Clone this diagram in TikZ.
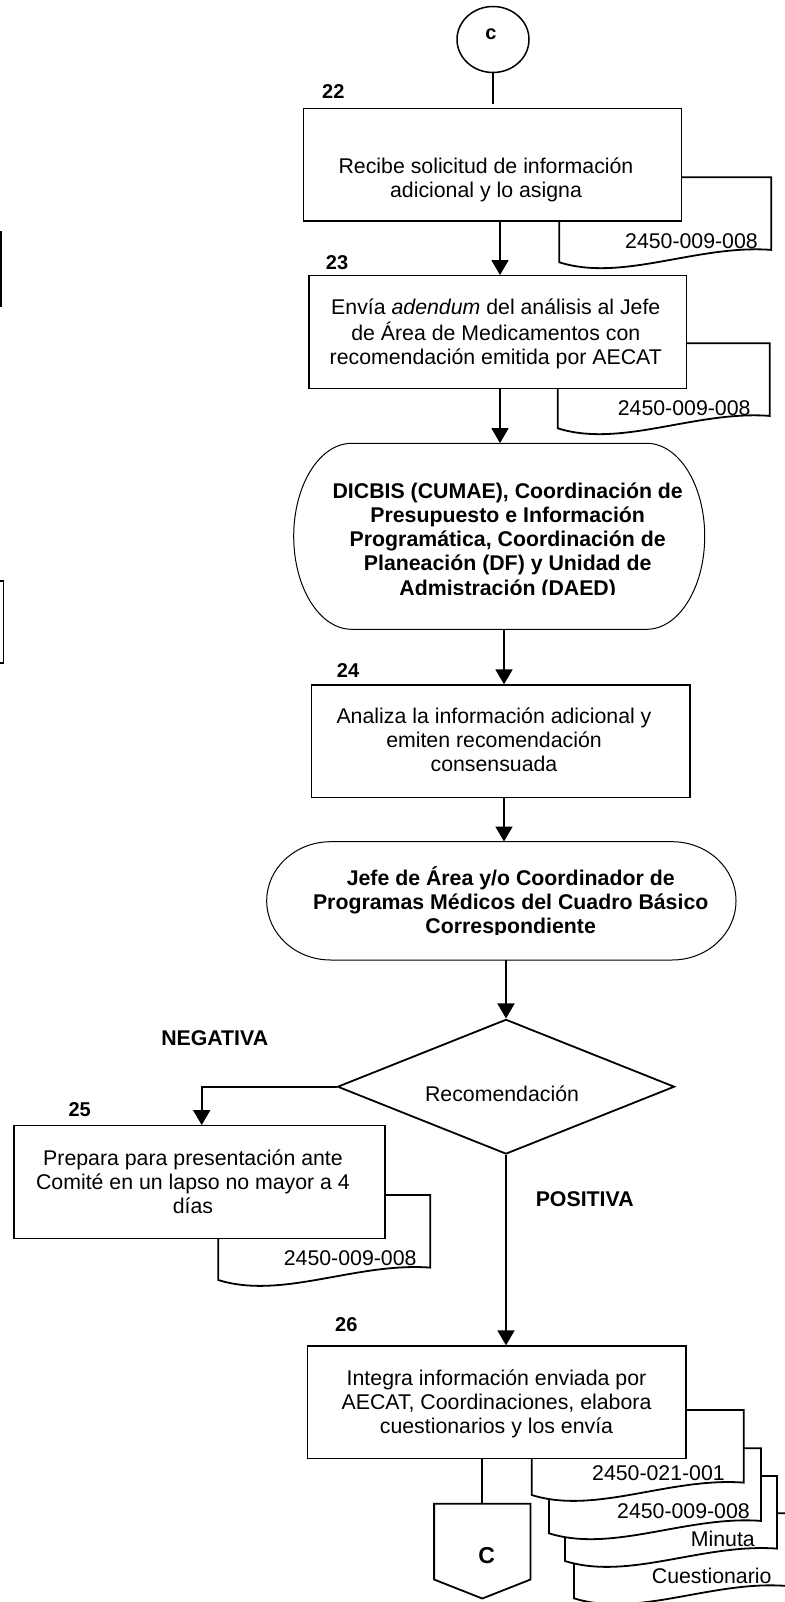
\documentclass[tikz,border=0pt]{standalone}
\usepackage{fontspec}
\setmainfont{Liberation Sans}
\usetikzlibrary{arrows.meta,shapes.geometric,calc}
\newcommand\ml[1]{\begin{tabular}[t]{@{}c@{}}#1\end{tabular}}
% document shape: #1 = left x, #2 = top y (screen px)
\newcommand\docshp[2]{%
  \pgfmathsetmacro\dxr{#1+212}\pgfmathsetmacro\dyb{#2+85}%
  \pgfmathsetmacro\dyr{#2+72.6}\pgfmathsetmacro\dca{#1+63.6}%
  \pgfmathsetmacro\dcb{#1+137.8}\pgfmathsetmacro\dya{#2+105}%
  \pgfmathsetmacro\dyc{#2+67}%
  \filldraw[docline] (#1,#2) -- (\dxr,#2) -- (\dxr,\dyr)
    .. controls (\dcb,\dyc) and (\dca,\dya) .. (#1,\dyb) -- cycle;}
% terminal outline: xl xr yt yb rx
\newcommand\termpath[5]{%
  \pgfmathsetmacro\trmA{#1+#5}\pgfmathsetmacro\trmB{#2-#5}%
  \pgfmathsetmacro\trmM{(#3+#4)/2}\pgfmathsetmacro\trmR{(#4-#3)/2}%
  \pgfmathsetmacro\trmKx{0.5523*#5}\pgfmathsetmacro\trmKy{0.5523*\trmR}%
  \filldraw[termline] (\trmA,#3) -- (\trmB,#3)
    .. controls ({\trmB+\trmKx},#3) and (#2,{\trmM-\trmKy}) .. (#2,\trmM)
    .. controls (#2,{\trmM+\trmKy}) and ({\trmB+\trmKx},#4) .. (\trmB,#4)
    -- (\trmA,#4)
    .. controls ({\trmA-\trmKx},#4) and (#1,{\trmM+\trmKy}) .. (#1,\trmM)
    .. controls (#1,{\trmM-\trmKy}) and ({\trmA-\trmKx},#3) .. cycle;}
\begin{document}
\begin{tikzpicture}[x=1pt,y=-1pt,
  box/.style={draw=black, line width=1.3pt, fill=white, rectangle, inner sep=0pt},
  txt/.style={inner sep=0pt, anchor=base, font=\fontsize{21.3}{24.2}\selectfont},
  btxt/.style={inner sep=0pt, anchor=base, font=\fontsize{21.3}{24.2}\selectfont\bfseries},
  num/.style={inner sep=0pt, anchor=base west, font=\fontsize{20}{24}\selectfont\bfseries},
  dtxt/.style={inner sep=0pt, anchor=base east, font=\fontsize{21.3}{24}\selectfont},
  arr/.style={line width=1.8pt, -{Triangle[length=15pt,width=17pt]}},
  conn/.style={line width=1.8pt},
  docline/.style={draw=black, fill=white, line width=1.8pt},
  termline/.style={draw=black, fill=white, line width=1pt},
  ghost/.style={inner sep=0pt, rectangle}]
\fill[white] (0,0) rectangle (784,1602);
\useasboundingbox (0,0) rectangle (784,1602);

% partial boxes at the left margin
\draw[line width=1.3pt] (-20,232) rectangle (1,306);
\draw[line width=1.3pt] (-20,581) rectangle (3.3,663);

% start connector
\node[draw, ellipse, line width=1.5pt, minimum width=72pt, minimum height=66pt, inner sep=0pt] (cir) at (493,39.5) {};
\node[inner sep=0pt, anchor=base, font=\fontsize{20}{24}\selectfont\bfseries] (cirt) at (491,39.3) {c};
\coordinate (c0) at (493,104);
\draw[conn] (cir.south) -- (c0);

% step 22
\docshp{559.3}{177.3}
\node[dtxt] (d22t) at (758,248.3) {2450-009-008};
\node[box, minimum width=378.4pt, minimum height=112.7pt] (b22) at (492.5,164.7) {};
\node[txt] (t22) at (486,173.3) {\ml{Recibe solicitud de información\\adicional y lo asigna}};
\node[num] (n22) at (322,99) {22};

% step 23
\docshp{557.7}{343.3}
\node[dtxt] (d23t) at (750.7,415) {2450-009-008};
\node[box, minimum width=377.7pt, minimum height=112.6pt] (b23) at (497.85,332) {};
\node[txt] (t23) at (495.8,315) {\ml{Envía \textit{adendum} del análisis al Jefe\\de Área de Medicamentos con\\recomendación emitida por AECAT}};
\node[num] (n23) at (325.7,269.3) {23};
\draw[arr] (b22.south -| 500,0) -- (b23.north -| 500,0);

% terminal 1
\termpath{293.7}{704.7}{443.3}{629.3}{58}
\node[ghost, minimum width=411pt, minimum height=186pt] (term1) at (499.2,536.3) {};
\begin{scope}
\clip (280,440) rectangle (720,594.5);
\node[btxt] (tt1) at (507.7,498.3) {\ml{DICBIS (CUMAE), Coordinación de\\Presupuesto e Información\\Programática, Coordinación de\\Planeación (DF) y Unidad de\\Admistración (DAED)}};
\end{scope}
\draw[arr] (b23.south -| 500,0) -- (term1.north -| 500,0);

% step 24
\node[box, minimum width=378.3pt, minimum height=112.7pt] (b24) at (500.85,741.35) {};
\node[txt] (t24) at (494,723.3) {\ml{Analiza la información adicional y\\emiten recomendación\\consensuada}};
\node[num] (n24) at (336.7,677.3) {24};
\draw[arr] (term1.south -| 504,0) -- (b24.north -| 504,0);

% terminal 2
\termpath{266.7}{736}{841.7}{960}{64}
\node[ghost, minimum width=469.3pt, minimum height=118.3pt] (term2) at (501.35,900.85) {};
\begin{scope}
\clip (250,835) rectangle (750,934.5);
\node[btxt] (tt2) at (510.7,885) {\ml{Jefe de Área y/o Coordinador de\\Programas Médicos del Cuadro Básico\\Correspondiente}};
\end{scope}
\draw[arr] (b24.south -| 504,0) -- (term2.north -| 504,0);

% decision
\node[draw, diamond, line width=1.8pt, fill=white, minimum width=337pt, minimum height=134.7pt, inner sep=0pt] (dia) at (506,1086.7) {};
\node[txt] (tdia) at (502,1101.7) {Recomendación};
\draw[arr] (term2.south -| dia.north) -- (dia.north);
\node[btxt] (neg) at (214.7,1045) {NEGATIVA};
\node[btxt] (pos) at (584.7,1206.7) {POSITIVA};

% step 25
\docshp{218.3}{1195}
\node[dtxt] (d25t) at (416.7,1265.7) {2450-009-008};
\node[box, minimum width=371pt, minimum height=112.6pt] (b25) at (199.5,1182) {};
\node[txt] (t25) at (193,1165) {\ml{Prepara para presentación ante\\Comité en un lapso no mayor a 4\\días}};
\node[num] (n25) at (68.3,1116.7) {25};
\coordinate (k25) at (201.7,1086.7);
\draw[arr] (dia.west) -- (k25) -- (b25.north -| k25);

% step 26
\docshp{574}{1513.3}
\node[dtxt] (dDt) at (771.7,1583) {Cuestionario};
\docshp{565}{1476}
\node[dtxt] (dCt) at (755,1546.7) {Minuta};
\docshp{549}{1448.3}
\node[dtxt] (dBt) at (750,1518.3) {2450-009-008};
\docshp{531.7}{1410}
\node[dtxt] (dAt) at (725,1480) {2450-021-001};
\node[box, minimum width=378.7pt, minimum height=112.3pt] (b26) at (496.65,1402.15) {};
\node[txt] (t26) at (496.5,1385) {\ml{Integra información enviada por\\AECAT, Coordinaciones, elabora\\cuestionarios y los envía}};
\node[num] (n26) at (335,1331.7) {26};
\draw[arr] (dia.south) -- (b26.north -| dia.south);

% off-page connector
\node[ghost, minimum width=96pt, minimum height=94.3pt] (off) at (482.3,1551.15) {};
\draw[line width=1.8pt, fill=white] (off.north west) -- (off.north east) -- ($(off.south east)+(0,-19)$) -- (off.south) -- ($(off.south west)+(0,-19)$) -- cycle;
\node[inner sep=0pt, font=\fontsize{23}{26}\selectfont\bfseries] (offt) at (486.7,1556) {C};
\draw[conn] (b26.south -| off.north) -- (off.north);
\end{tikzpicture}
\end{document}
